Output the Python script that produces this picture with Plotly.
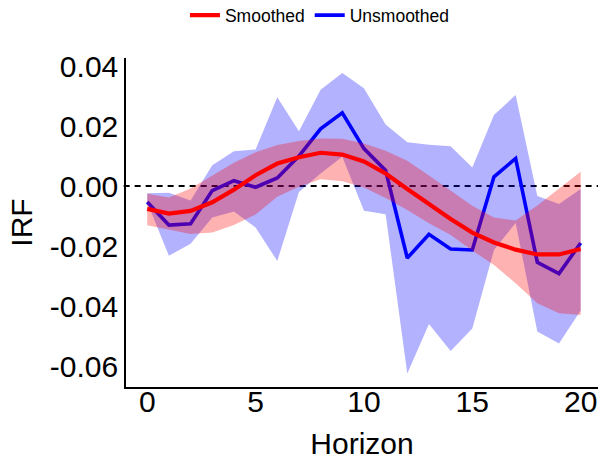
import plotly.graph_objects as go

horizon = list(range(21))

smoothed = [-0.0076, -0.0092, -0.0083, -0.0054, -0.0012, 0.0036, 0.0075, 0.0096, 0.0111, 0.0105,
            0.0082, 0.0042, -0.0010, -0.0062, -0.0110, -0.0155, -0.0188, -0.0212, -0.0228, -0.0228, -0.0210]
smoothed_upper = [-0.0026, -0.0038, -0.0008, 0.0036, 0.0078, 0.0113, 0.0137, 0.0150, 0.0159, 0.0158,
                  0.0142, 0.0118, 0.0084, 0.0035, -0.0017, -0.0066, -0.0105, -0.0115, -0.0065, -0.0010, 0.0048]
smoothed_lower = [-0.0131, -0.0146, -0.0160, -0.0155, -0.0130, -0.0095, -0.0036, -0.0002, 0.0023, 0.0016,
                  -0.0005, -0.0040, -0.0080, -0.0124, -0.0163, -0.0215, -0.0263, -0.0324, -0.0391, -0.0424, -0.0430]

unsmoothed = [-0.0053, -0.0130, -0.0126, -0.0015, 0.0018, -0.0004, 0.0027, 0.0100, 0.0191, 0.0244,
              0.0125, 0.0052, -0.0240, -0.0161, -0.0210, -0.0213, 0.0031, 0.0092, -0.0254, -0.0292, -0.0190]
unsmoothed_upper = [-0.0024, -0.0022, -0.0048, 0.0069, 0.0116, 0.0122, 0.0296, 0.0183, 0.0321, 0.0377,
                    0.0326, 0.0205, 0.0146, 0.0138, 0.0133, 0.0062, 0.0237, 0.0304, -0.0033, -0.0060, -0.0010]
unsmoothed_lower = [-0.0055, -0.0232, -0.0192, -0.0105, -0.0085, -0.0138, -0.0250, -0.0020, 0.0042, 0.0098,
                    -0.0082, -0.0094, -0.0625, -0.0460, -0.0550, -0.0475, -0.0213, -0.0123, -0.0485, -0.0525, -0.0415]

x_ticks = [0, 5, 10, 15, 20]
y_ticks = [-0.06, -0.04, -0.02, 0.00, 0.02, 0.04]
y_tick_labels = ["-0.06", "-0.04", "-0.02", "0.00", "0.02", "0.04"]

FONT = "Liberation Sans, Arial, Helvetica, sans-serif"

fig = go.Figure()

# Unsmoothed band + line
fig.add_trace(go.Scatter(
    x=horizon + horizon[::-1], y=unsmoothed_upper + unsmoothed_lower[::-1],
    fill="toself", fillcolor="rgba(0,0,255,0.3)", line=dict(width=0),
    mode="lines", showlegend=False, hoverinfo="skip"))
fig.add_trace(go.Scatter(
    x=horizon, y=unsmoothed, mode="lines", name="Unsmoothed",
    line=dict(color="#0000FF", width=3.6), legendrank=2))

# Smoothed band + line
fig.add_trace(go.Scatter(
    x=horizon + horizon[::-1], y=smoothed_upper + smoothed_lower[::-1],
    fill="toself", fillcolor="rgba(255,0,0,0.3)", line=dict(width=0),
    mode="lines", showlegend=False, hoverinfo="skip"))
fig.add_trace(go.Scatter(
    x=horizon, y=smoothed, mode="lines", name="Smoothed",
    line=dict(color="#FF0000", width=4.2), legendrank=1))

# zero reference line
fig.add_shape(type="line", xref="paper", yref="y", x0=-0.005, x1=1, y0=0, y1=0,
              line=dict(color="black", width=2, dash="6px,5px"), layer="below")

fig.update_layout(
    width=598, height=466,
    margin=dict(l=126, r=0, t=58, b=79, autoexpand=False),
    paper_bgcolor="white", plot_bgcolor="white",
    font=dict(family=FONT, color="black"),
    showlegend=True,
    legend=dict(orientation="h", x=0.535, xanchor="center", xref="container",
                y=1.13, yanchor="middle", yref="paper",
                font=dict(size=17.5, family=FONT, color="black"),
                itemwidth=30, tracegroupgap=0, bgcolor="rgba(0,0,0,0)"),
    xaxis=dict(range=[-0.98, 20.8], tickvals=x_ticks, ticks="", ticklen=0, showgrid=False, zeroline=False,
               showline=True, linecolor="black", linewidth=1.5, automargin=False,
               ticklabelstandoff=-13,
               tickfont=dict(size=30, family=FONT, color="black"),
               title=dict(text="Horizon", font=dict(size=30, family=FONT, color="black"), standoff=16)),
    yaxis=dict(range=[-0.067, 0.0427], tickvals=y_ticks, ticktext=y_tick_labels, ticks="", ticklen=0,
               showgrid=False, zeroline=False, automargin=False,
               showline=True, linecolor="black", linewidth=1.5,
               tickfont=dict(size=30, family=FONT, color="black"),
               title=dict(text="IRF", font=dict(size=30, family=FONT, color="black"), standoff=8)),
)

fig.write_html("out.html",
               config={"displayModeBar": False},
               post_script="document.body.style.margin='0';document.body.style.padding='0';")
